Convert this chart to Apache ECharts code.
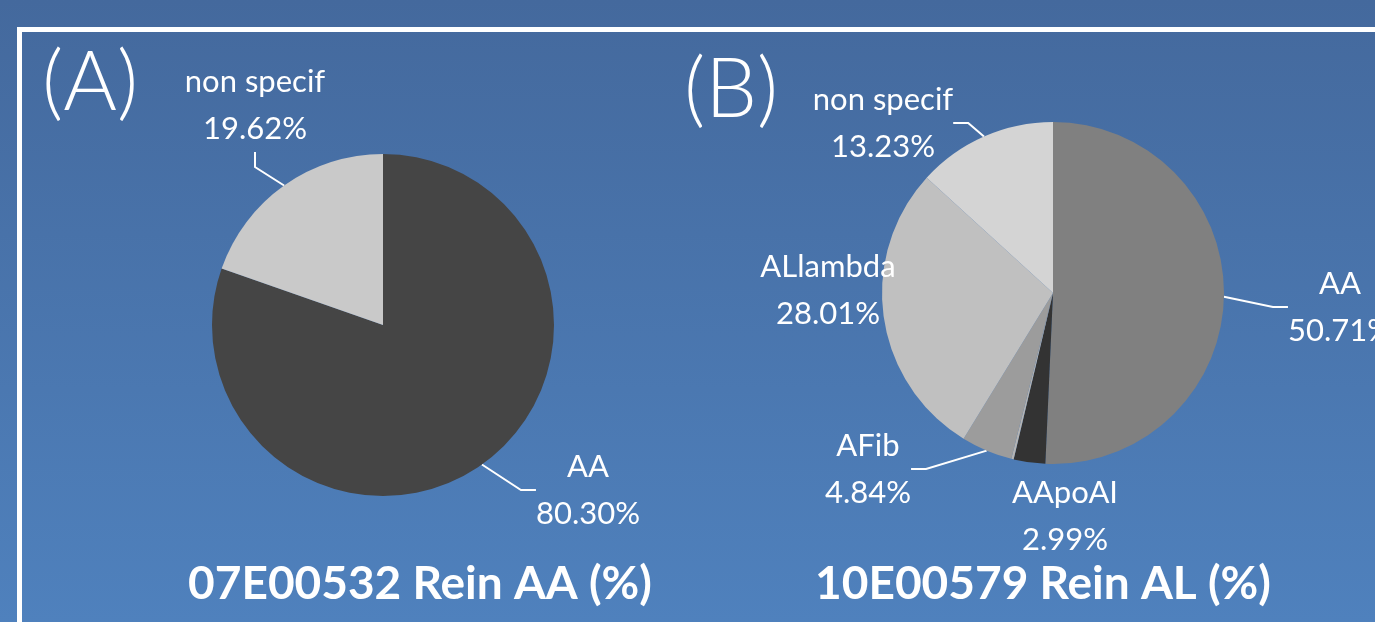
<!DOCTYPE html>
<html>
<head>
<meta charset="utf-8">
<script src="https://cdn.jsdelivr.net/npm/echarts@6/dist/echarts.min.js"></script>
<style>html,body{margin:0;padding:0;overflow:hidden;}#c{width:1375px;height:622px;}</style>
</head>
<body>
<div id="c"></div>
<script>
// ---- Data ----
const namesA = ['AA', 'non specif'];
const valuesA = [80.30, 19.62];
const colorsA = ['#454545', '#c9c9c9'];

const namesB = ['AA', 'AApoAI', '', 'AFib', 'ALlambda', 'non specif'];
const valuesB = [50.71, 2.99, 0.22, 4.84, 28.01, 13.23];
const colorsB = ['#808080', '#333333', '#b4b4b4', '#9c9c9c', '#c0c0c0', '#d4d4d4'];

const titleA = '07E00532 Rein AA (%)';
const titleB = '10E00579 Rein AL (%)';
const panelA = '(A)';
const panelB = '(B)';

// label anchor points (text block centres)
const labelPosA = [[588, 490], [255, 105]];
const labelPosB = [[1340, 307], [1065, 516], null, [868, 469], [828, 290], [883, 123]];
const showLineB = [true, false, false, true, false, true];

const FONT = 'Lato, "Open Sans", sans-serif';

function mkData(names, values, colors, lines) {
  return names.map((n, i) => ({
    name: n, value: values[i],
    itemStyle: { color: colors[i] },
    label: { show: n !== '' },
    labelLine: { show: lines ? lines[i] : true }
  }));
}

const chart = echarts.init(document.getElementById('c'), null, { renderer: 'canvas' });

const labelCommon = {
  show: true,
  position: 'outside',
  formatter: p => p.name + '\n' + p.value.toFixed(2) + '%',
  color: '#ffffff',
  fontFamily: FONT,
  fontSize: 31,
  lineHeight: 47,
  align: 'center',
  overflow: 'none'
};

function layoutFor(pos) {
  return function (params) {
    const p = pos[params.dataIndex];
    if (!p) return {};
    return { x: p[0], y: p[1], align: 'center', verticalAlign: 'middle' };
  };
}

chart.setOption({
  backgroundColor: {
    type: 'linear', x: 0, y: 0, x2: 0, y2: 1,
    colorStops: [{ offset: 0, color: '#44699d' }, { offset: 1, color: '#4f81bd' }]
  },
  animation: false,
  title: [
    { text: titleA, left: 415, top: 556, textAlign: 'center',
      textStyle: { color: '#fff', fontFamily: FONT, fontWeight: 'bold', fontSize: 46 } },
    { text: titleB, left: 1038, top: 556, textAlign: 'center',
      textStyle: { color: '#fff', fontFamily: FONT, fontWeight: 'bold', fontSize: 46 } }
  ],
  graphic: [
    { type: 'rect', shape: { x: 19.5, y: 29.5, width: 1500, height: 800 },
      style: { fill: null, stroke: '#ffffff', lineWidth: 5 }, silent: true },
    { type: 'text', left: 42, top: 43,
      style: { text: panelA, fill: '#fff', font: '300 82px ' + FONT } },
    { type: 'text', left: 684, top: 50,
      style: { text: panelB, fill: '#fff', font: '300 82px ' + FONT } }
  ],
  series: [
    {
      type: 'pie', center: [383, 325], radius: [0, 171],
      startAngle: 90, clockwise: true,
      label: labelCommon,
      labelLine: { show: true, length: 25, length2: 15, lineStyle: { color: '#ffffff', width: 2 } },
      labelLayout: layoutFor(labelPosA),
      itemStyle: { borderWidth: 0 },
      emphasis: { disabled: true },
      data: mkData(namesA, valuesA, colorsA)
    },
    {
      type: 'pie', center: [1053, 293], radius: [0, 171],
      startAngle: 90, clockwise: true,
      label: labelCommon,
      labelLine: { show: true, length: 25, length2: 15, lineStyle: { color: '#ffffff', width: 2 } },
      labelLayout: layoutFor(labelPosB),
      itemStyle: { borderWidth: 0 },
      emphasis: { disabled: true },
      data: mkData(namesB, valuesB, colorsB, showLineB)
    }
  ]
});
</script>
</body>
</html>
